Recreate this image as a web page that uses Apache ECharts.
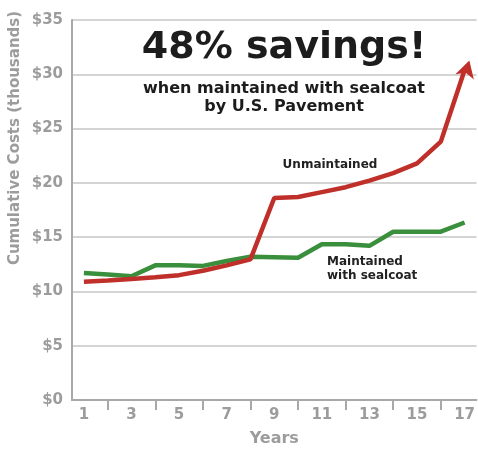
<!DOCTYPE html>
<html>
<head>
<meta charset="utf-8">
<script src="https://cdn.jsdelivr.net/npm/echarts@6/dist/echarts.min.js"></script>
<style>
html,body{margin:0;padding:0;background:#fff;}
#chart{width:478px;height:452px;}
</style>
</head>
<body>
<div id="chart"></div>
<script>
var years = ['1','2','3','4','5','6','7','8','9','10','11','12','13','14','15','16','17'];
var unmaintained = [10.9, 11.0, 11.15, 11.3, 11.5, 11.9, 12.4, 12.95, 18.6, 18.7, 19.15, 19.6, 20.2, 20.9, 21.8, 23.8, 30.4];
var maintained = [11.7, 11.55, 11.4, 12.4, 12.4, 12.35, 12.8, 13.2, 13.15, 13.1, 14.35, 14.35, 14.2, 15.5, 15.5, 15.5, 16.35];
var yTickLabels = ['$0','$5','$10','$15','$20','$25','$30','$35'];
var titleText = '48% savings!';
var subLine1 = 'when maintained with sealcoat';
var subLine2 = 'by U.S. Pavement';
var yAxisName = 'Cumulative Costs (thousands)';
var xAxisName = 'Years';
var redLabel = 'Unmaintained';
var greenLabel = ['Maintained', 'with sealcoat'];

var FONT = '"DejaVu Sans", "Liberation Sans", sans-serif';
var GREY = '#9c9c9c';

// arrow head (tilted to follow the last segment), as a symbol path
var ARROW_PATH = 'path://M2.76,-9.61 L6.99,8.25 L-0.55,1.92 L-10.31,3.28 Z';

var redData = unmaintained.map(function (v, i) {
  if (i === unmaintained.length - 1) {
    return { value: v, symbol: ARROW_PATH, symbolSize: [18.5, 19], symbolRotate: 0,
             itemStyle: { color: '#c0302b' } };
  }
  return v;
});

var chart = echarts.init(document.getElementById('chart'), null, { renderer: 'canvas' });
chart.setOption({
  animation: false,
  backgroundColor: '#fff',
  grid: { left: 72, right: 0, top: 20, bottom: 49, containLabel: false },
  xAxis: {
    type: 'category',
    data: years,
    boundaryGap: true,
    name: xAxisName,
    nameLocation: 'middle',
    nameGap: 31,
    nameTextStyle: { fontFamily: FONT, fontWeight: 'bold', fontSize: 16, color: GREY },
    axisLine: { lineStyle: { color: '#a8a8a8', width: 2 } },
    axisTick: { show: true, alignWithLabel: true, length: 10,
                interval: function (i) { return i % 2 === 1; },
                lineStyle: { color: '#a8a8a8', width: 2 } },
    axisLabel: { interval: function (i) { return i % 2 === 0; }, margin: 8,
                 fontFamily: FONT, fontWeight: 'bold', fontSize: 15, color: GREY },
    splitLine: { show: false }
  },
  yAxis: {
    type: 'value',
    min: 0, max: 35, interval: 5,
    axisLine: { show: true, lineStyle: { color: '#a8a8a8', width: 2 } },
    axisTick: { show: false },
    axisLabel: { margin: 9, fontFamily: FONT, fontWeight: 'bold', fontSize: 15, color: GREY,
                 formatter: function (v, idx) { return yTickLabels[Math.round(v / 5)]; } },
    splitLine: { show: true, lineStyle: { color: '#c6c6c6', width: 1.5 } }
  },
  series: [
    {
      name: 'Maintained with sealcoat',
      type: 'line',
      data: maintained,
      showSymbol: false,
      symbol: 'none',
      lineStyle: { color: '#3a8f3c', width: 4.5 },
      itemStyle: { color: '#3a8f3c' },
      z: 2
    },
    {
      name: 'Unmaintained',
      type: 'line',
      data: redData,
      symbol: 'none',
      showSymbol: true,
      lineStyle: { color: '#c0302b', width: 4.5 },
      itemStyle: { color: '#c0302b' },
      z: 3
    }
  ],
  graphic: [
    { type: 'text', x: 284, y: 48, style: { text: titleText, font: 'bold 38px ' + FONT, fill: '#1c1c1c', textAlign: 'center', textVerticalAlign: 'middle' } },
    { type: 'text', x: 284, y: 89, style: { text: subLine1, font: 'bold 16px ' + FONT, fill: '#1c1c1c', textAlign: 'center', textVerticalAlign: 'middle' } },
    { type: 'text', x: 284, y: 107, style: { text: subLine2, font: 'bold 16px ' + FONT, fill: '#1c1c1c', textAlign: 'center', textVerticalAlign: 'middle' } },
    { type: 'text', x: 330, y: 165, style: { text: redLabel, font: 'bold 12px ' + FONT, fill: '#222', textAlign: 'center', textVerticalAlign: 'middle' } },
    { type: 'text', x: 327, y: 262, style: { text: greenLabel[0], font: 'bold 12px ' + FONT, fill: '#222', textAlign: 'left', textVerticalAlign: 'middle' } },
    { type: 'text', x: 327, y: 276, style: { text: greenLabel[1], font: 'bold 12px ' + FONT, fill: '#222', textAlign: 'left', textVerticalAlign: 'middle' } },
    { type: 'text', x: 15, y: 138, rotation: Math.PI / 2, style: { text: yAxisName, font: 'bold 15px ' + FONT, fill: GREY, textAlign: 'center', textVerticalAlign: 'middle' } }
  ]
});
</script>
</body>
</html>
